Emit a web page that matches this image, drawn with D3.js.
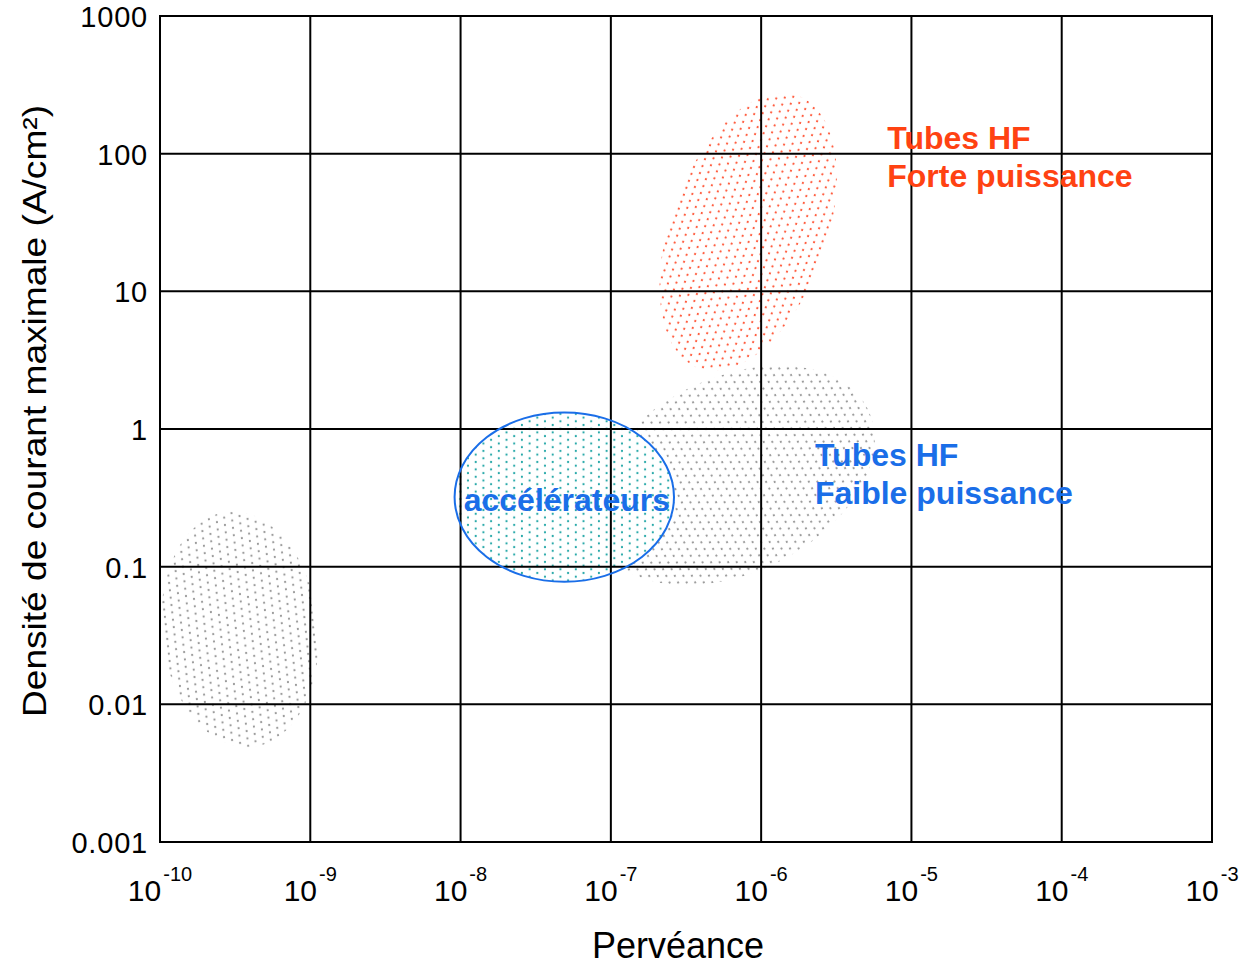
<!DOCTYPE html>
<html>
<head>
<meta charset="utf-8">
<script src="https://cdn.jsdelivr.net/npm/d3@7"></script>
<style>
  body { margin: 0; background: #fff; }
  svg { display: block; font-family: Arial, "Liberation Sans", sans-serif; }
</style>
</head>
<body>
<svg id="chart" width="1244" height="965"></svg>
<script>
// axis ticks
var xTickExp = [-10, -9, -8, -7, -6, -5, -4, -3];
var yTicks = [1000, 100, 10, 1, 0.1, 0.01, 0.001];
var yTickLabels = ["1000", "100", "10", "1", "0.1", "0.01", "0.001"];

// dotted regions: centre (perveance, density), half-widths in decades
var regionNames = ["faible", "forte", "petits", "accel"];
var regionPerv = [6.5e-7, 8.2e-7, 3.4e-10, 4.9e-8];
var regionDens = [0.46, 27, 0.035, 0.32];
var regionHalfX = [1.0, 0.52, 0.52, 0.73];    // decades of perveance
var regionHalfY = [0.71, 1.055, 0.86, 0.615]; // decades of density
var regionTilt = [-26, 20, -6, 0];

// labels
var labelNames = ["forte", "faible", "accel"];
var labelPerv = [6.9e-6, 2.28e-6, 5.1e-8];
var labelDens = [108, 0.54, 0.254];
var labelLines = [["Tubes HF", "Forte puissance"], ["Tubes HF", "Faible puissance"], ["accélérateurs"]];

var svg = d3.select("#chart");
var mLeft = 160, mRight = 1212, mTop = 16, mBottom = 842;

var x = d3.scaleLog().domain([1e-10, 1e-3]).range([mLeft, mRight]);
var y = d3.scaleLog().domain([0.001, 1000]).range([mBottom, mTop]);

// dot patterns
var defs = svg.append("defs");
var dotColors = { grey: "#9a9a9a", red: "#ff5a3c", teal: "#26a8a8" };
Object.keys(dotColors).forEach(function(k) {
  var p = defs.append("pattern")
    .attr("id", "dots-" + k)
    .attr("patternUnits", "userSpaceOnUse")
    .attr("width", 15.4).attr("height", 7.4);
  p.append("circle").attr("cx", 3.8).attr("cy", 1.8).attr("r", 1.1).attr("fill", dotColors[k]);
  p.append("circle").attr("cx", 11.5).attr("cy", 5.5).attr("r", 1.1).attr("fill", dotColors[k]);
});

// regions
var patternOf = { faible: "grey", forte: "red", petits: "grey", accel: "teal" };
var regions = regionNames.map(function(n, i) {
  var cx = x(regionPerv[i]), cy = y(regionDens[i]);
  return {
    name: n,
    cx: cx, cy: cy,
    rx: x(regionPerv[i] * Math.pow(10, regionHalfX[i])) - cx,
    ry: cy - y(regionDens[i] * Math.pow(10, regionHalfY[i])),
    tilt: regionTilt[i]
  };
});
var rg = svg.append("g");
regions.forEach(function(r) {
  var tr = "translate(" + r.cx + "," + r.cy + ") rotate(" + r.tilt + ")";
  if (r.name === "accel") {
    // white underlay so the grey dots behind are hidden
    rg.append("ellipse")
      .attr("rx", r.rx).attr("ry", r.ry).attr("transform", tr)
      .attr("fill", "#fff");
  }
  rg.append("ellipse")
    .attr("rx", r.rx).attr("ry", r.ry).attr("transform", tr)
    .attr("fill", "url(#dots-" + patternOf[r.name] + ")");
});

// grid
var g = svg.append("g");
g.selectAll("line.gx").data(xTickExp.slice(1, -1)).enter()
  .append("line")
  .attr("x1", function(d) { return x(Math.pow(10, d)); })
  .attr("x2", function(d) { return x(Math.pow(10, d)); })
  .attr("y1", mTop).attr("y2", mBottom)
  .attr("stroke", "#000").attr("stroke-width", 2);
g.selectAll("line.gy").data(yTicks.slice(1, -1)).enter()
  .append("line")
  .attr("y1", function(d) { return y(d); })
  .attr("y2", function(d) { return y(d); })
  .attr("x1", mLeft).attr("x2", mRight)
  .attr("stroke", "#000").attr("stroke-width", 2);

// accelerator outline sits over the grid
var acc = regions[regionNames.indexOf("accel")];
svg.append("ellipse")
  .attr("rx", acc.rx).attr("ry", acc.ry)
  .attr("transform", "translate(" + acc.cx + "," + acc.cy + ")")
  .attr("fill", "none").attr("stroke", "#1a6ee8").attr("stroke-width", 2);

// frame
svg.append("rect")
  .attr("x", mLeft).attr("y", mTop)
  .attr("width", mRight - mLeft).attr("height", mBottom - mTop)
  .attr("fill", "none").attr("stroke", "#000").attr("stroke-width", 2);

// y tick labels
svg.selectAll("text.yt").data(yTicks).enter()
  .append("text")
  .attr("x", mLeft - 12)
  .attr("y", function(d) { return y(d) + 11; })
  .attr("text-anchor", "end")
  .attr("font-size", 29)
  .attr("letter-spacing", 0.8)
  .text(function(d, i) { return yTickLabels[i]; });

// x tick labels 10^n
var xt = svg.selectAll("text.xt").data(xTickExp).enter()
  .append("text")
  .attr("x", function(d) { return x(Math.pow(10, d)); })
  .attr("y", 901)
  .attr("text-anchor", "middle")
  .attr("font-size", 30);
xt.append("tspan").text("10");
xt.append("tspan").attr("dx", 2).attr("dy", -20).attr("font-size", 20).text(function(d) { return d; });

// axis titles
svg.append("text")
  .attr("x", 678).attr("y", 958)
  .attr("text-anchor", "middle")
  .attr("font-size", 36)
  .text("Pervéance");
svg.append("text")
  .attr("transform", "translate(46,411) rotate(-90)")
  .attr("text-anchor", "middle")
  .attr("font-size", 34)
  .attr("textLength", 612)
  .attr("lengthAdjust", "spacingAndGlyphs")
  .text("Densité de courant maximale (A/cm²)");

// region labels
var labelColor = { forte: "#ff4212", faible: "#1a6ee8", accel: "#1a6ee8" };
labelNames.forEach(function(n, i) {
  var lines = labelLines[i];
  var t = svg.append("text")
    .attr("x", x(labelPerv[i]))
    .attr("y", y(labelDens[i]))
    .attr("font-size", 32)
    .attr("font-weight", "bold")
    .attr("fill", labelColor[n])
    .attr("text-anchor", n === "accel" ? "middle" : "start");
  lines.forEach(function(s, j) {
    t.append("tspan").attr("x", x(labelPerv[i])).attr("dy", j === 0 ? 0 : 38).text(s);
  });
});
</script>
</body>
</html>
